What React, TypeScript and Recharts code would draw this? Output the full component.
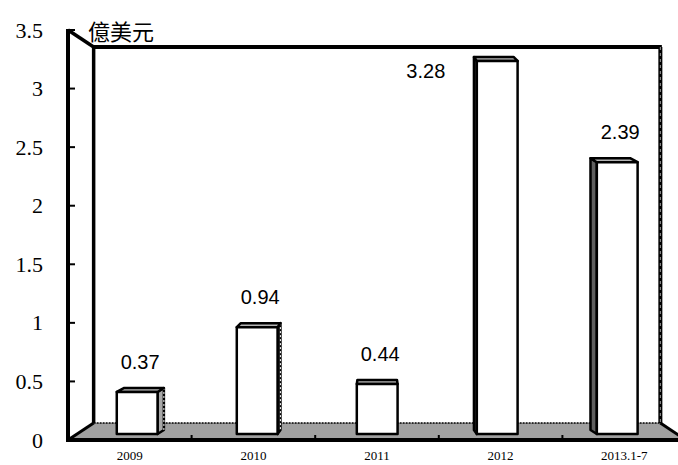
import { Bar, BarChart, LabelList, ReferenceArea, XAxis, YAxis } from "recharts";

// chart values
const years = ["2009", "2010", "2011", "2012", "2013.1-7"];
const values = [0.37, 0.94, 0.44, 3.28, 2.39];
const yTicks = [0, 0.5, 1, 1.5, 2, 2.5, 3, 3.5];
const unitLabel = "億美元";

const data = years.map((year, i) => ({ year, value: values[i] }));

// layout of the fake 3D box
const CHART_W = 678;
const CHART_H = 465;
const PLOT_LEFT = 68;
const PLOT_TOP = 30;
const PLOT_RIGHT = 686; // front plane runs a little past the picture edge
const PLOT_BOTTOM = 440;
const CX = (PLOT_LEFT + PLOT_RIGHT) / 2;
const CY = (PLOT_TOP + PLOT_BOTTOM) / 2;
const S_WALL = 0.917; // back wall depth
const S_FRONT = 0.971; // bar front face depth
const S_BACK = 0.943; // bar back face depth
const TOP_DY = -4;

const SERIF = "'Liberation Serif', 'Times New Roman', serif";

const project = (px: number, py: number, s: number) => [
  CX + (px - CX) * s,
  CY + (py - CY) * s,
];

const pts = (arr: number[][]) => arr.map((p) => p.join(",")).join(" ");

const Walls = (props: any) => {
  const { x, y, width, height } = props;
  const cx = x + width / 2;
  const cy = y + height / 2;
  const bl = cx - (width / 2) * S_WALL;
  const br = cx + (width / 2) * S_WALL;
  const bt = cy - (height / 2) * S_WALL;
  const bb = cy + (height / 2) * S_WALL;
  const fl = x;
  const fr = x + width;
  const ft = y;
  const fb = y + height;
  const n = years.length;
  const ticks = [];
  for (let k = 1; k < n; k++) {
    const tx = fl + (width * k) / n;
    ticks.push(
      <line key={k} x1={tx} x2={tx} y1={fb} y2={fb - 5} stroke="#000" strokeWidth={2} />
    );
  }
  return (
    <g>
      {/* back wall */}
      <rect x={bl} y={bt} width={br - bl} height={bb - bt} fill="#fff" />
      {/* left side wall */}
      <polygon points={pts([[fl, ft], [bl, bt], [bl, bb], [fl, fb]])} fill="#fff" />
      {/* floor */}
      <polygon points={pts([[fl, fb], [bl, bb], [br, bb], [fr, fb]])} fill="#a0a0a0" />
      <line x1={bl} x2={br} y1={bb} y2={bb} stroke="#000" strokeWidth={1.5} strokeDasharray="2 1" />
      <line x1={fl} y1={fb} x2={bl} y2={bb} stroke="#000" strokeWidth={3} />
      <line x1={br} y1={bb} x2={fr} y2={fb} stroke="#000" strokeWidth={3} />
      {/* wall edges */}
      <line x1={bl} x2={br + 1.5} y1={bt} y2={bt} stroke="#000" strokeWidth={4} />
      <line x1={br} x2={br} y1={bt} y2={bb} stroke="#000" strokeWidth={4} />
      <line x1={br} x2={br} y1={bt} y2={bb} stroke="#999" strokeWidth={1} strokeDasharray="3 3" />
      <line x1={bl} x2={bl} y1={bt - 1} y2={bb} stroke="#000" strokeWidth={3.5} />
      <line x1={fl} y1={ft} x2={bl} y2={bt} stroke="#000" strokeWidth={3.5} />
      <line x1={fl} x2={fl} y1={ft - 1} y2={fb} stroke="#000" strokeWidth={4} />
      <line x1={fl - 2} x2={CHART_W + 20} y1={fb} y2={fb} stroke="#000" strokeWidth={4} />
      {ticks}
      <text
        x={88}
        y={30}
        dominantBaseline="central"
        fill="#000"
        style={{ fontSize: 22, fontFamily: "'Noto Sans CJK TC', sans-serif", fontWeight: 400 }}
      >
        {unitLabel}
      </text>
    </g>
  );
};

const Bar3D = (props: any) => {
  const { x, y, width, height } = props;
  const [lx, ty] = project(x, y, S_FRONT);
  const [rx, by] = project(x + width, y + height, S_FRONT);
  const [blx] = project(x, y, S_BACK);
  const [brx] = project(x + width, y, S_BACK);
  const bty = ty + TOP_DY;
  const byb = by + TOP_DY;
  const stroke = { stroke: "#000", strokeWidth: 2.5, strokeLinejoin: "round" as const };
  return (
    <g>
      {brx > rx && (
        <g>
          <polygon points={pts([[rx, ty], [brx, bty], [brx, byb], [rx, by]])} fill="#a8a8a8" {...stroke} />
          <line x1={brx} x2={brx} y1={bty} y2={byb} stroke="#fff" strokeWidth={1} strokeDasharray="2 2" />
        </g>
      )}
      {blx < lx && (
        <polygon points={pts([[lx, ty], [blx, bty], [blx, byb], [lx, by]])} fill="#606060" {...stroke} />
      )}
      <polygon points={pts([[lx, ty], [rx, ty], [brx, bty], [blx, bty]])} fill="#b4b4b4" {...stroke} />
      <rect x={lx} y={ty} width={rx - lx} height={by - ty} fill="#fff" {...stroke} />
    </g>
  );
};

const BarLabel = (props: any) => {
  const { x, y, width, value } = props;
  const [lx, ty] = project(x, y, S_FRONT);
  const [mx] = project(x + width / 2, y, S_FRONT);
  const wallTop = CY - (CY - PLOT_TOP) * S_WALL;
  let tx = mx + 3;
  let tyy = ty - 30;
  if (tyy - 12 < wallTop) {
    // no room above: put it beside the bar
    tx = lx - 51;
    tyy = ty + 10;
  }
  return (
    <text
      x={tx}
      y={tyy}
      textAnchor="middle"
      dominantBaseline="central"
      fill="#000"
      style={{ fontSize: 20, fontFamily: "'Liberation Sans', Arial, sans-serif" }}
    >
      {value}
    </text>
  );
};

const YTick = (props: any) => {
  const { x, y, payload } = props;
  return (
    <g>
      <text
        x={x}
        y={y}
        textAnchor="end"
        dominantBaseline="central"
        fill="#000"
        style={{ fontSize: 22, fontFamily: SERIF }}
      >
        {payload.value}
      </text>
      <line x1={PLOT_LEFT} x2={PLOT_LEFT + 7} y1={y} y2={y} stroke="#000" strokeWidth={2} />
    </g>
  );
};

export default function App() {
  return (
    <div style={{ position: "absolute", left: 0, top: 0, background: "#fff" }}>
      <BarChart
        width={CHART_W}
        height={CHART_H}
        data={data}
        margin={{
          top: PLOT_TOP,
          right: CHART_W - PLOT_RIGHT,
          bottom: CHART_H - PLOT_BOTTOM - 25,
          left: 0,
        }}
      >
        <ReferenceArea y1={0} y2={3.5} shape={<Walls />} zIndex={-100} ifOverflow="visible" />
        <XAxis
          dataKey="year"
          height={25}
          axisLine={false}
          tickLine={false}
          tickSize={0}
          tickMargin={11}
          interval={0}
          tick={{ fontSize: 13, fontFamily: SERIF, fill: "#000" }}
        />
        <YAxis
          width={PLOT_LEFT}
          domain={[0, 3.5]}
          ticks={yTicks}
          axisLine={false}
          tickLine={false}
          tickSize={0}
          tickMargin={25}
          tick={<YTick />}
        />
        <Bar dataKey="value" barSize={42} shape={<Bar3D />} isAnimationActive={false}>
          <LabelList dataKey="value" content={<BarLabel />} />
        </Bar>
      </BarChart>
    </div>
  );
}
